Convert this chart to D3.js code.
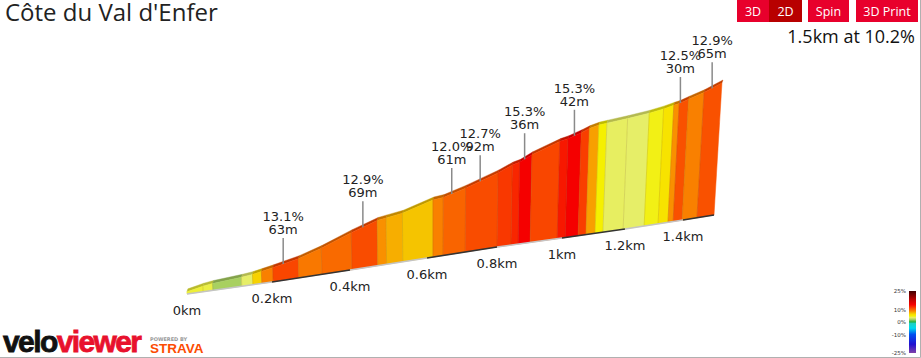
<!DOCTYPE html>
<html>
<head>
<meta charset="utf-8">
<script src="https://cdn.jsdelivr.net/npm/d3@7"></script>
<style>
  html, body { margin: 0; padding: 0; background: #fff; overflow: hidden; }
  svg { display: block; }
  text { font-family: "DejaVu Sans", sans-serif; }
</style>
</head>
<body>
<svg id="profile" width="921" height="358"></svg>
<script>
/* Data Setup */
const titleText = "Côte du Val d'Enfer";
const summaryText = "1.5km at 10.2%";
const buttonLabels = ["3D", "2D", "Spin", "3D Print"];

/* profile samples: distance (km) and height above the start (m) */
const profileKm = [0, .038, .061, .129, .155, .176, .203, .269, .328, .405, .472, .495, .537, .617, .646, .709, .8, .843, .865, .902, .985, 1.01, 1.051, 1.076, 1.105, 1.13, 1.194, 1.266, 1.314, 1.348, 1.366, 1.397, 1.445, 1.5];
const profileElev = [2.5, 6.5, 8, 10.5, 12, 14, 16.5, 22.5, 30.5, 43.5, 53, 54.5, 57, 67, 68, 75, 87, 94, 96, 103, 114, 116, 121, 124.5, 127, 128, 130, 132.5, 135, 137.5, 138.5, 142, 147, 155];
/* gradient (%) of each stretch between samples */
const segmentGrade = [4.2, 4, 2, 3.5, 6.5, 9, 11.2, 9.3, 9.8, 11, 8.5, 7.6, 7, 9, 10, 11, 11.7, 12.4, 14, 11.2, 13, 14, 11.5, 8, 5, 3.6, 3.5, 4.7, 5.8, 8.5, 10.8, 9, 10.8];

/* the steep parts called out above the profile */
const climbKm = [.23, .435, .67, .75, .88, 1.03, 1.37, 1.47];
const climbGrade = ["13.1%", "12.9%", "12.0%", "12.7%", "15.3%", "15.3%", "12.5%", "12.9%"];
const climbLength = ["63m", "69m", "61m", "92m", "36m", "42m", "30m", "65m"];

const distanceTicks = [0, .2, .4, .6, .8, 1, 1.2, 1.4];
const legendTicks = [25, 10, 0, -10, -25];

/* Chart Drawing Setup */
const svg = d3.select("#profile");

/* the view is in perspective so distance is not linear on screen */
const scaleKnots = [0, .2, .4, .6, .8, 1, 1.2, 1.4, 1.5];
const xScale = d3.scaleLinear().domain(scaleKnots).range([187, 272, 350, 427, 497, 562, 625, 683, 714]);
const yBase = d3.scaleLinear().domain(scaleKnots).range([294, 282, 270, 258, 247, 238, 229, 220, 215]);
const hScale = d3.scaleLinear().domain([0, 155]).range([0, 132]);
const elevAt = d3.scaleLinear().domain(profileKm).range(profileElev);

/* verticals fan out from a vanishing point below the middle of the road */
const vanishX = 433, fan = 0.000214;
const project = (km, elev) => {
  const x = xScale(km), h = hScale(elev);
  return [x + (x - vanishX) * fan * h, yBase(km) - h];
};

/* Gradient colours, also used for the legend */
const colorGrades = [-25, -18, -10, -5, -1, 0, 2, 3.5, 5, 6, 7, 8, 9, 10, 11, 12, 14, 18, 25];
const colorValues = ["#8040a8", "#2010d0", "#0050f0", "#00d8f0", "#20d0c0", "#20b040", "#a8d060", "#e6ee68", "#f5f000", "#f8e000", "#f5c400", "#f8a000", "#f98000", "#f96400", "#f94c00", "#f93000", "#f50000", "#c00000", "#400000"];
const colorScale = d3.scaleLinear().domain(colorGrades).range(colorValues);

/* Road surface strip along the top */
const stripDx = 1, stripDy = -3;
const segments = segmentGrade.map((g, i) => ({ g, i }));
const pts = d => d.map(p => p.join(",")).join(" ");

svg.append("g").selectAll("polygon")
  .data(segments)
  .join("polygon")
    .attr("points", d => {
      const a = project(profileKm[d.i], profileElev[d.i]);
      const b = project(profileKm[d.i + 1], profileElev[d.i + 1]);
      return pts([a, b, [b[0] + stripDx, b[1] + stripDy], [a[0] + stripDx, a[1] + stripDy]]);
    })
    .attr("fill", d => d3.color(colorScale(d.g)).darker(0.7))
    .attr("stroke", d => d3.color(colorScale(d.g)).darker(0.7))
    .attr("stroke-width", 0.4);

/* Front face of the profile */
svg.append("g").selectAll("polygon")
  .data(segments)
  .join("polygon")
    .attr("points", d => {
      const k0 = profileKm[d.i], k1 = profileKm[d.i + 1];
      return pts([[xScale(k0), yBase(k0)], [xScale(k1), yBase(k1)], project(k1, profileElev[d.i + 1]), project(k0, profileElev[d.i])]);
    })
    .attr("fill", d => colorScale(d.g))
    .attr("stroke", d => colorScale(d.g))
    .attr("stroke-width", 0.5);

/* Faint dividers between stretches */
svg.append("g").selectAll("line")
  .data(profileKm.slice(1, -1))
  .join("line")
    .attr("x1", d => xScale(d))
    .attr("y1", d => yBase(d))
    .attr("x2", d => project(d, elevAt(d))[0])
    .attr("y2", d => project(d, elevAt(d))[1])
    .attr("stroke", "#806000")
    .attr("stroke-opacity", 0.18)
    .attr("stroke-width", 1);

/* Base line alternates every 0.2km */
const baseEnds = distanceTicks.map((k, i) => [k, distanceTicks[i + 1] ?? 1.5]);
svg.append("g").selectAll("line")
  .data(baseEnds)
  .join("line")
    .attr("x1", d => xScale(d[0]))
    .attr("y1", d => yBase(d[0]))
    .attr("x2", d => xScale(d[1]))
    .attr("y2", d => yBase(d[1]))
    .attr("stroke", (d, i) => i % 2 ? "#333" : "#c4c4c4")
    .attr("stroke-width", 1.6);

/* Distance labels */
svg.append("g").selectAll("text")
  .data(distanceTicks)
  .join("text")
    .attr("x", d => xScale(d))
    .attr("y", d => yBase(d) + 21)
    .attr("text-anchor", "middle")
    .style("font-size", "13px")
    .style("fill", "#222")
    .text(d => `${d}km`);

/* Callouts */
const callout = svg.append("g").selectAll("g")
  .data(climbKm)
  .join("g")
    .attr("transform", d => {
      const p = project(d, elevAt(d));
      return `translate(${p[0]},${p[1]})`;
    });
callout.append("line")
  .attr("y1", 0).attr("y2", -26)
  .attr("stroke", "#8a8a8a").attr("stroke-width", 1.5);
callout.append("text")
  .attr("y", -43).attr("text-anchor", "middle")
  .style("font-size", "13px").style("fill", "#222")
  .text((d, i) => climbGrade[i]);
callout.append("text")
  .attr("y", -30).attr("text-anchor", "middle")
  .style("font-size", "13px").style("fill", "#222")
  .text((d, i) => climbLength[i]);

/* Title and summary */
svg.append("text")
  .attr("x", 5).attr("y", 21)
  .style("font-family", "'Open Sans', sans-serif")
  .style("font-size", "24px").style("fill", "#222")
  .text(titleText);
svg.append("text")
  .attr("x", 915).attr("y", 43)
  .attr("text-anchor", "end")
  .style("font-family", "'Open Sans', sans-serif")
  .style("font-size", "18px").style("fill", "#111")
  .text(summaryText);

/* Buttons */
const buttonX = [737, 769, 808, 856];
const buttonW = [32, 33, 41, 62];
const buttonGroup = svg.append("g").selectAll("g")
  .data(buttonLabels)
  .join("g")
    .attr("transform", (d, i) => `translate(${buttonX[i]},0)`);
buttonGroup.append("rect")
  .attr("width", (d, i) => buttonW[i])
  .attr("height", 22)
  .attr("fill", d => d === "2D" ? "#b80000" : "#e8002c");
buttonGroup.append("text")
  .attr("x", (d, i) => buttonW[i] / 2)
  .attr("y", 16)
  .attr("text-anchor", "middle")
  .style("font-family", "'Open Sans', sans-serif")
  .style("font-size", "12.5px").style("fill", "#fff")
  .text(d => d);

/* Colour legend */
const legendScale = d3.scaleLinear().domain([25, -25]).range([291, 353]);
const defs = svg.append("defs");
const grad = defs.append("linearGradient")
  .attr("id", "legend-grad")
  .attr("x1", 0).attr("x2", 0).attr("y1", 0).attr("y2", 1);
grad.selectAll("stop")
  .data(colorGrades.slice().reverse())
  .join("stop")
    .attr("offset", d => (25 - d) / 50)
    .attr("stop-color", d => colorScale(d));
svg.append("rect")
  .attr("x", 909).attr("y", 291)
  .attr("width", 7).attr("height", 62)
  .attr("fill", "url(#legend-grad)");
const legendAxis = d3.axisLeft(legendScale)
  .tickValues(legendTicks)
  .tickSize(0)
  .tickPadding(0)
  .tickFormat(d => `${d}%`);
const legendG = svg.append("g")
  .attr("transform", "translate(906,0)")
  .call(legendAxis);
legendG.select(".domain").remove();
legendG.selectAll("text")
  .style("font-family", "'DejaVu Sans', sans-serif")
  .style("font-size", "5.5px")
  .style("fill", "#333");

/* Logo */
const logo = svg.append("text")
  .attr("x", 3).attr("y", 352)
  .style("font-family", "'Liberation Sans', sans-serif")
  .style("font-size", "30px")
  .style("font-weight", "bold")
  .style("letter-spacing", "-1.6px");
logo.append("tspan").attr("fill", "#111").attr("stroke", "#111").attr("stroke-width", 0.8).text("velo");
logo.append("tspan").attr("fill", "#e8112d").attr("stroke", "#e8112d").attr("stroke-width", 0.8).text("viewer");
svg.append("text")
  .attr("x", 150).attr("y", 341)
  .style("font-size", "5px").style("font-weight", "bold").style("fill", "#999")
  .text("POWERED BY");
svg.append("text")
  .attr("x", 150).attr("y", 353)
  .style("font-family", "'Liberation Sans', sans-serif")
  .style("font-size", "13.5px").style("font-weight", "bold").style("fill", "#fc4c02")
  .text("STRAVA");

/* Frame lines on the right and bottom */
svg.append("path")
  .attr("d", "M920.5,0V357.5H0")
  .attr("fill", "none")
  .attr("stroke", "#b0b0b0");
</script>
</body>
</html>
